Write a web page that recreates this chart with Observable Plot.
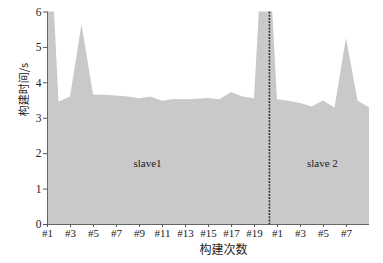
<!DOCTYPE html>
<html>
<head>
<meta charset="utf-8">
<script src="https://cdn.jsdelivr.net/npm/d3@7"></script>
<script src="https://cdn.jsdelivr.net/npm/@observablehq/plot@0.6"></script>
<style>
  html, body { margin: 0; padding: 0; background: #fff; }
</style>
</head>
<body>
<div id="chart"></div>
<script>
// Build times (s) — slave1 builds #1..#20, slave2 builds #1..#9
const slave1Times = [10, 3.45, 3.6, 5.65, 3.66, 3.65, 3.63, 3.6, 3.55, 3.6, 3.48, 3.53, 3.52, 3.54, 3.56, 3.52, 3.73, 3.6, 3.55, 9.5];
const slave2Times = [3.52, 3.48, 3.42, 3.32, 3.49, 3.29, 5.26, 3.49, 3.29];
const groupNames = ["slave1", "slave 2"];
const yTicks = [0, 1, 2, 3, 4, 5, 6];
const dividerAt = 19.3;        // boundary between slave1 and slave2 runs
const labelPos = [8.7, 23.9];  // build-index where group names sit
const labelY = 1.72;

const data = [
  ...slave1Times.map((v, k) => ({i: k, v, build: "#" + (k + 1)})),
  ...slave2Times.map((v, k) => ({i: slave1Times.length + k, v, build: "#" + (k + 1)}))
];
const xTickIdx = data.filter(d => {
  const n = +d.build.slice(1);
  return n % 2 === 1 && !(d.i >= slave1Times.length && n > 7);
}).map(d => d.i);
const buildLabel = new Map(data.map(d => [d.i, d.build]));

const serif = "'Liberation Serif', 'DejaVu Serif', serif";
const cjk = "'Noto Sans CJK SC', sans-serif";

const chart = Plot.plot({
  width: 383,
  height: 263,
  marginLeft: 47,
  marginRight: 14,
  marginTop: 11.5,
  marginBottom: 39,
  style: {fontFamily: serif, fontSize: "11px", color: "#222", background: "#fff"},
  x: {domain: [0, data.length - 1]},
  y: {domain: [0, 6]},
  marks: [
    Plot.areaY(data, {x: "i", y: "v", fill: "#c9c9c9", clip: true}),
    Plot.ruleX([dividerAt], {stroke: "#333", strokeWidth: 1.6, strokeDasharray: "2,1.2"}),
    Plot.text(groupNames, {x: (d, k) => labelPos[k], y: labelY, text: d => d, fontSize: 11, fill: "#222"}),
    Plot.ruleY([0], {stroke: "#666"}),
    Plot.ruleX([0], {stroke: "#666"}),
    Plot.axisY({ticks: yTicks, tickFormat: d => String(d), tickSize: 4, tickPadding: 2, label: null, fontSize: 11.5, stroke: "#555"}),
    Plot.axisX({ticks: xTickIdx, tickFormat: d => buildLabel.get(d), tickSize: 3, tickPadding: 2, label: null, fontSize: 11, stroke: "#555"}),
    Plot.text(["构建时间/s"], {frameAnchor: "left", text: d => d, rotate: -90, dx: -23, dy: -2, fontFamily: cjk, fontSize: 11, fill: "#222"}),
    Plot.text(["构建次数"], {frameAnchor: "bottom", text: d => d, dx: 15, dy: 26, lineAnchor: "middle", fontFamily: cjk, fontSize: 12, fill: "#222"})
  ]
});
document.getElementById("chart").appendChild(chart);
</script>
</body>
</html>
